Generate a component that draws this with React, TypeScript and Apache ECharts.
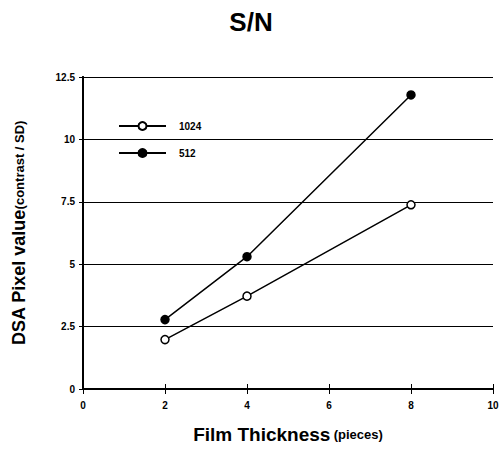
import React, { useEffect, useRef } from "react";
import * as echarts from "echarts";

const xValues = [2, 4, 8];
const series1024 = [1.98, 3.72, 7.38];
const series512 = [2.78, 5.3, 11.78];
const seriesNames = ["1024", "512"];
const yTicks = [0, 2.5, 5, 7.5, 10, 12.5];

export default function App() {
  const ref = useRef<HTMLDivElement>(null);
  useEffect(() => {
    if (!ref.current) return;
    const chart = echarts.init(ref.current, null, { renderer: "svg" });
    const font = "Liberation Sans, Arial, sans-serif";
    const pair = (ys: number[]) => xValues.map((x, i) => [x, ys[i]]);
    chart.setOption({
      animation: false,
      backgroundColor: "#fff",
      title: {
        text: "S/N",
        left: "center",
        top: 4,
        textStyle: { fontFamily: font, fontWeight: "bold", fontSize: 26, color: "#000" },
      },
      legend: {
        orient: "vertical",
        left: 113,
        top: 116,
        itemGap: 17,
        itemWidth: 47,
        itemHeight: 10,
        data: seriesNames,
        textStyle: { fontFamily: font, fontWeight: "bold", fontSize: 10, color: "#000", padding: [0, 0, 0, 8] },
      },
      grid: { left: 83, right: 9, top: 77, bottom: 63, containLabel: false },
      xAxis: [
        {
          type: "value",
          min: 0,
          max: 10,
          interval: 2,
          name: "{a|Film Thickness} {b|(pieces)}",
          nameLocation: "middle",
          nameGap: 36,
          nameTextStyle: {
            rich: {
              a: { fontFamily: font, fontWeight: "bold", fontSize: 19, color: "#000" },
              b: { fontFamily: font, fontWeight: "bold", fontSize: 13, color: "#000" },
            },
          },
          axisLine: { lineStyle: { color: "#000", width: 2 } },
          axisTick: { inside: true, length: 5, lineStyle: { color: "#000", width: 1 } },
          axisLabel: { fontFamily: font, fontWeight: "bold", fontSize: 10, color: "#000", margin: 11 },
          splitLine: { show: false },
        },
        {
          type: "value",
          position: "top",
          min: 0,
          max: 10,
          interval: 2,
          axisLine: { lineStyle: { color: "#000", width: 2 } },
          axisTick: { inside: true, length: 5, lineStyle: { color: "#000", width: 1 } },
          axisLabel: { show: false },
          splitLine: { show: false },
        },
      ],
      yAxis: [
        {
          type: "value",
          min: 0,
          max: 12.5,
          interval: 2.5,
          name: "{a|DSA Pixel value}{b|(contrast / SD)}",
          nameLocation: "middle",
          nameRotate: 90,
          nameGap: 55,
          nameTextStyle: {
            rich: {
              a: { fontFamily: font, fontWeight: "bold", fontSize: 18, color: "#000" },
              b: { fontFamily: font, fontWeight: "bold", fontSize: 13, color: "#000" },
            },
          },
          axisLine: { show: true, lineStyle: { color: "#000", width: 2 } },
          axisTick: { show: true, inside: true, length: 5, lineStyle: { color: "#000", width: 1 } },
          axisLabel: {
            fontFamily: font,
            fontWeight: "bold",
            fontSize: 10,
            color: "#000",
            margin: 8,
            formatter: (v: number) => (yTicks.includes(v) ? String(v) : ""),
          },
          splitLine: { show: true, lineStyle: { color: "#000", width: 1 } },
        },
        {
          type: "value",
          position: "right",
          min: 0,
          max: 12.5,
          interval: 2.5,
          axisLine: { show: true, lineStyle: { color: "#000", width: 2 } },
          axisTick: { show: true, inside: true, length: 4, lineStyle: { color: "#000", width: 1 } },
          axisLabel: { show: false },
          splitLine: { show: false },
        },
      ],
      series: [
        {
          name: seriesNames[0],
          type: "line",
          data: pair(series1024),
          symbol: "circle",
          symbolSize: 8,
          lineStyle: { color: "#000", width: 1.5 },
          itemStyle: { color: "#fff", borderColor: "#000", borderWidth: 1.5 },
        },
        {
          name: seriesNames[1],
          type: "line",
          data: pair(series512),
          symbol: "circle",
          symbolSize: 8,
          lineStyle: { color: "#000", width: 1.5 },
          itemStyle: { color: "#000", borderColor: "#000", borderWidth: 1.5 },
        },
      ],
    });
    return () => chart.dispose();
  }, []);
  return <div ref={ref} style={{ width: 502, height: 452, position: "absolute", left: 0, top: 0 }} />;
}
